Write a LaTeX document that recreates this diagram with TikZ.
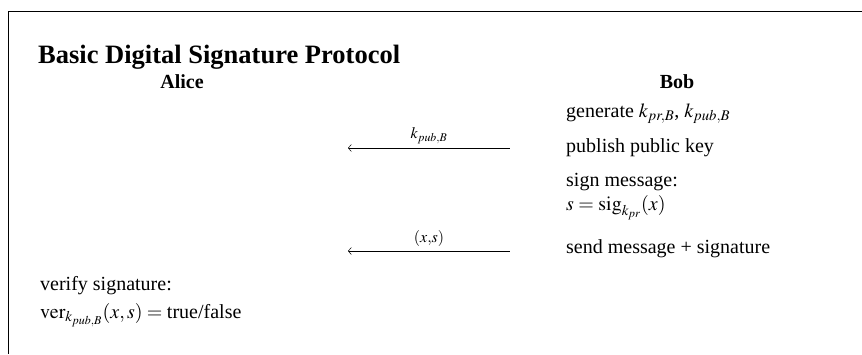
\documentclass[tikz,border=0pt]{standalone}
\usepackage{mathptmx}
\usepackage{fontspec}
\setmainfont{Liberation Serif}
\usetikzlibrary{positioning,arrows.meta}

\begin{document}
\begin{tikzpicture}[x=1pt, y=-1pt, thin]
		% --- Estilos ---
		\tikzset{
			body/.style={anchor=base west, inner sep=0pt, font=\fontsize{20}{24}\selectfont},
			party/.style={anchor=base, inner sep=0pt, font=\fontsize{20}{24}\selectfont\bfseries},
			msglabel/.style={above=4pt, inner sep=0pt, font=\fontsize{16}{18}\selectfont},
			msg/.style={{Straight Barb[length=3pt,width=7pt]}-, line width=0.5pt}
		}
		\useasboundingbox (0,0) rectangle (862,354);
		
		% --- Marco ---
		\draw (8,11) -- (862,11);
		\draw (8,11) -- (8,354);
		
		% --- Título y participantes ---
		\node[anchor=base west, inner sep=0pt, font=\fontsize{26.5}{30}\selectfont\bfseries] (title) at (38,63) {Basic Digital Signature Protocol};
		\node[party] (alice) at (182,88) {Alice};
		\node[party] (bob) at (677,88) {Bob};
		
		% --- Pasos de Bob ---
		\node[body] (gen) at (566,117) {generate $k_{pr,B}$, $k_{pub,B}$};
		\node[body] (pub) at (566,152) {publish public key};
		\node[body] (sign) at (566,186) {sign message:};
		\node[body] (sigeq) at (566,210) {$s=\mathrm{sig}_{k_{pr}}(x)$};
		\node[body] (send) at (566,253) {send message + signature};
		
		% --- Pasos de Alice ---
		\node[body] (verify) at (40,290) {verify signature:};
		\node[body] (vereq) at (40,318) {$\mathrm{ver}_{k_{pub,B}}(x,s)=\mbox{true/false}$};
		
		% --- Mensajes ---
		\coordinate (keyB) at (510,148);
		\coordinate (keyA) at (348,148);
		\coordinate (sigB) at (510,251);
		\coordinate (sigA) at (348,251);
		\draw[msg] (keyA) -- node[msglabel] (keylbl) {$k_{pub,B}$} (keyB);
		\draw[msg] (sigA) -- node[msglabel] (siglbl) {$(x{,}s)$} (sigB);
		
	\end{tikzpicture}
\end{document}
